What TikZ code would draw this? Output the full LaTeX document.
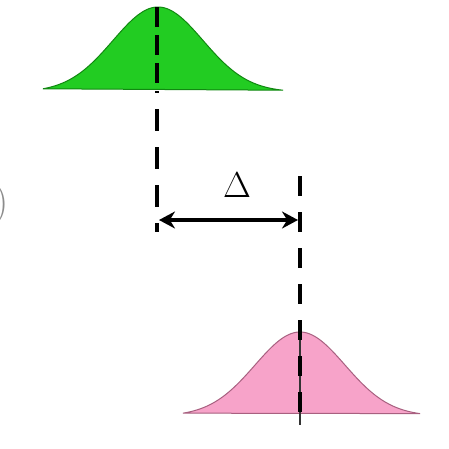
\documentclass[tikz,border=0pt]{standalone}
\usetikzlibrary{arrows.meta}
\definecolor{bellgreen}{HTML}{22CC22}
\definecolor{bellgreenline}{HTML}{118811}
\definecolor{bellpink}{HTML}{F7A3C9}
\definecolor{bellpinkline}{HTML}{A86080}
\tikzset{
  meanline/.style={line width=4.4pt, dash pattern=on 19pt off 15pt},
  shiftarrow/.style={line width=4.4pt, {Stealth[length=16pt,width=17pt]}-{Stealth[length=16pt,width=17pt]}},
}
\begin{document}
\begin{tikzpicture}[x=1pt,y=-1pt]
\useasboundingbox[fill=white] (0,0) rectangle (449,448);
% cropped glyph at left edge
\node[anchor=east, text=black!45, font=\fontsize{40}{44}\selectfont, inner sep=0pt] (paren) at (9,205) {)};
% green bell
\fill[bellgreen, draw=bellgreenline, line width=1pt] plot[domain=43:283, samples=120, smooth] (\x,{92-85*exp(-((\x-158)/45)^2/2)}) -- cycle;
% pink bell
\fill[bellpink, draw=bellpinkline, line width=1pt] plot[domain=183:420, samples=120, smooth] (\x,{416-84*exp(-((\x-300)/45)^2/2)}) -- cycle;
% mean lines
\coordinate (gtop) at (157,7);
\coordinate (gbot) at (157,232);
\coordinate (ptop) at (300,176);
\coordinate (pbot) at (300,425);
\draw[meanline, dash pattern=on 20pt off 8pt] (gtop) -- (157,92);
\draw[meanline, dash pattern=on 22pt off 16pt, dash phase=-17pt] (157,92) -- (gbot);
\draw[black!80, line width=1.5pt] (300,332) -- (pbot);
\draw[meanline, dash pattern=on 20pt off 16pt] (ptop) -- (pbot);
% shift arrow
\coordinate (aL) at (159,220);
\coordinate (aR) at (298,220);
\draw[shiftarrow] (aL) -- (aR);
\node[font=\Huge, scale=1.45, inner sep=0pt] (delta) at (237,185) {$\Delta$};
\end{tikzpicture}
\end{document}
